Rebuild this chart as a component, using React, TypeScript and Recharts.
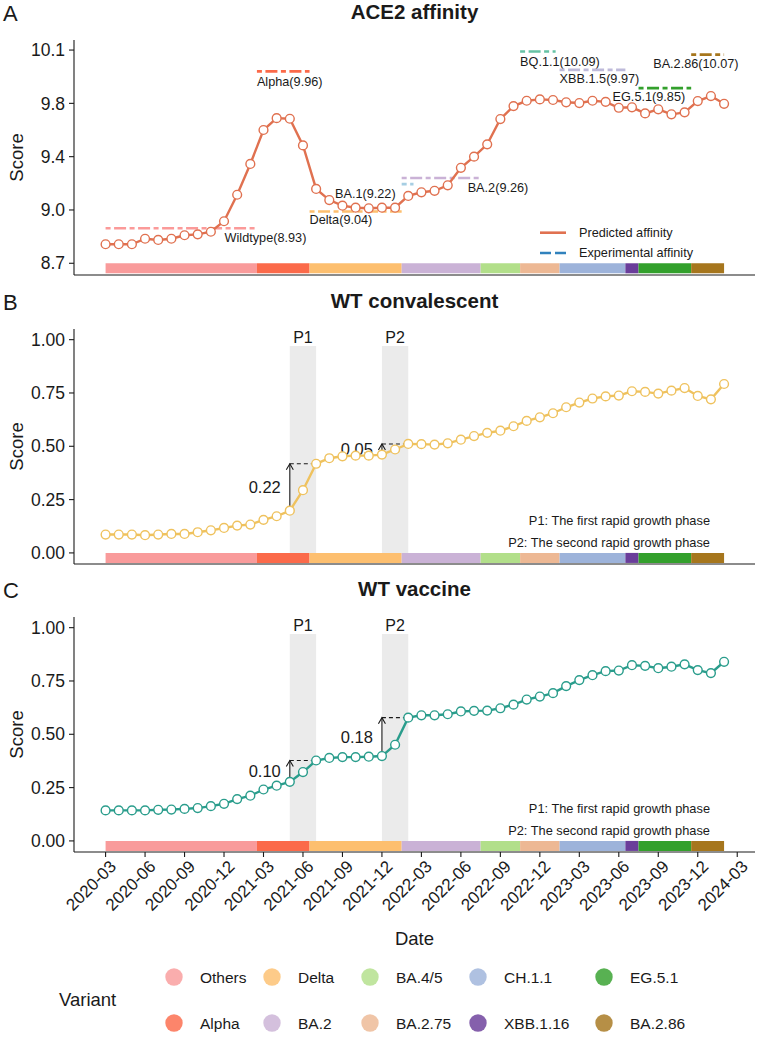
import React from "react";
import { ComposedChart, Line, XAxis, YAxis, ReferenceArea, ReferenceLine } from "recharts";

const FONT = '"Liberation Sans", Arial, Helvetica, sans-serif';
const INK = "#1a1a1a";

// month index 0 = 2020-03, one point per month up to 2024-02
const dateTicks = [0, 3, 6, 9, 12, 15, 18, 21, 24, 27, 30, 33, 36, 39, 42, 45, 48];
const dateLabels = [
  "2020-03", "2020-06", "2020-09", "2020-12", "2021-03", "2021-06", "2021-09", "2021-12",
  "2022-03", "2022-06", "2022-09", "2022-12", "2023-03", "2023-06", "2023-09", "2023-12", "2024-03",
];

const affinity = [
  8.825, 8.825, 8.825, 8.861, 8.853, 8.861, 8.884, 8.89, 8.907, 8.976,
  9.15, 9.352, 9.575, 9.653, 9.649, 9.474, 9.188, 9.115, 9.078, 9.065,
  9.061, 9.065, 9.065, 9.142, 9.166, 9.176, 9.212, 9.327, 9.4, 9.481,
  9.647, 9.732, 9.767, 9.776, 9.772, 9.757, 9.752, 9.767, 9.76, 9.721,
  9.724, 9.684, 9.711, 9.678, 9.691, 9.765, 9.798, 9.747,
];

const convalescent = [
  0.086, 0.086, 0.086, 0.083, 0.086, 0.089, 0.089, 0.097, 0.106, 0.117,
  0.128, 0.133, 0.155, 0.172, 0.198, 0.294, 0.418, 0.444, 0.453, 0.456,
  0.456, 0.461, 0.485, 0.511, 0.51, 0.508, 0.514, 0.531, 0.548, 0.563,
  0.573, 0.594, 0.619, 0.636, 0.655, 0.683, 0.705, 0.724, 0.734, 0.738,
  0.758, 0.755, 0.747, 0.761, 0.773, 0.736, 0.72, 0.792,
];

const vaccine = [
  0.143, 0.143, 0.143, 0.143, 0.146, 0.147, 0.15, 0.154, 0.163, 0.174,
  0.196, 0.212, 0.241, 0.259, 0.277, 0.323, 0.377, 0.389, 0.393, 0.393,
  0.395, 0.398, 0.451, 0.578, 0.589, 0.589, 0.594, 0.607, 0.61, 0.611,
  0.622, 0.639, 0.663, 0.677, 0.693, 0.726, 0.754, 0.777, 0.796, 0.799,
  0.824, 0.821, 0.81, 0.817, 0.828, 0.801, 0.787, 0.84,
];

// dominant variant periods (month index)
const variantNames = ["Others", "Alpha", "Delta", "BA.2", "BA.4/5", "BA.2.75", "CH.1.1", "XBB.1.16", "EG.5.1", "BA.2.86"];
const variantStart = [0, 11.5, 15.5, 22.5, 28.5, 31.5, 34.5, 39.5, 40.5, 44.5];
const variantEnd = [11.5, 15.5, 22.5, 28.5, 31.5, 34.5, 39.5, 40.5, 44.5, 47];
const variantColors = ["#F99B9B", "#FB6A4A", "#FDBF6F", "#CAB2D6", "#B2DF8A", "#EDB894", "#9DB3DA", "#6A3D9A", "#33A02C", "#A6761D"];

// experimentally measured ACE2 affinity
const expNames = ["Wildtype", "Alpha", "Delta", "BA.1", "BA.2", "BQ.1.1", "XBB.1.5", "EG.5.1", "BA.2.86"];
const expValues = [8.93, 9.96, 9.04, 9.22, 9.26, 10.09, 9.97, 9.85, 10.07];
const expStart = [0, 11.5, 15.5, 22.5, 22.5, 31.5, 34.5, 40.5, 44.5];
const expEnd = [11.5, 15.5, 22.5, 23.4, 28.5, 34.2, 39.5, 44.5, 47];
const expColors = ["#FB9A99", "#FB6A4A", "#FDBF6F", "#A6CEE3", "#CAB2D6", "#66C2A5", "#BEBADA", "#33A02C", "#A6761D"];

// label offsets from the start of each experimental segment (px)
const expLabelPlacement: Record<string, { dx: number; dy: number; anchor: "start" | "end" }> = {
  Wildtype: { dx: 119, dy: 14, anchor: "start" },
  Alpha: { dx: 0, dy: 15, anchor: "start" },
  Delta: { dx: 0, dy: 13, anchor: "start" },
  "BA.1": { dx: -6, dy: 14, anchor: "end" },
  "BA.2": { dx: 66, dy: 14, anchor: "start" },
  "BQ.1.1": { dx: 0, dy: 14, anchor: "start" },
  "XBB.1.5": { dx: 0, dy: 13, anchor: "start" },
  "EG.5.1": { dx: -26, dy: 13, anchor: "start" },
  "BA.2.86": { dx: -38, dy: 13, anchor: "start" },
};

// rapid growth phases
const phaseNames = ["P1", "P2"];
const phaseStart = [14, 21];
const phaseEnd = [16, 23];

const affinityTicks = [8.7, 9.05, 9.4, 9.75, 10.1];
const affinityTickLabels = ["8.7", "9.0", "9.4", "9.8", "10.1"];
const scoreTicks = [0, 0.25, 0.5, 0.75, 1];
const scoreTickLabels = ["0.00", "0.25", "0.50", "0.75", "1.00"];

const X_DOMAIN: [number, number] = [-2.4, 49.35];

function DateTick(props: any) {
  const { x, y, payload } = props;
  const label = dateLabels[dateTicks.indexOf(payload.value)];
  const px = x + 3;
  const py = y;
  return (
    <text x={px} y={py} dy="0.72em" textAnchor="end" transform={`rotate(-45 ${px} ${py})`} fontSize={17} fill={INK}>
      {label}
    </text>
  );
}

function expShape(i: number) {
  return (p: any) => {
    const place = expLabelPlacement[expNames[i]];
    return (
      <g>
        <line x1={p.x1} y1={p.y1} x2={p.x2} y2={p.y2} stroke={expColors[i]} strokeWidth={2.6} strokeDasharray="5 3.5 12 3.5" />
        <text x={p.x1 + place.dx} y={p.y1 + place.dy} textAnchor={place.anchor} fontSize={12.7} fill={INK}>
          {`${expNames[i]}(${expValues[i].toFixed(2)})`}
        </text>
      </g>
    );
  };
}

function arrowShape(label: string) {
  return (p: any) => (
    <g>
      <line x1={p.x1} y1={p.y1} x2={p.x2} y2={p.y2} stroke={INK} strokeWidth={1.1} />
      <path d={`M${p.x2 - 3.5},${p.y2 + 6} L${p.x2},${p.y2} L${p.x2 + 3.5},${p.y2 + 6}`} fill="none" stroke={INK} strokeWidth={1.1} />
      <text x={p.x1 - 9} y={(p.y1 + p.y2) / 2} dy="0.36em" textAnchor="end" fontSize={16.5} fill={INK}>
        {label}
      </text>
    </g>
  );
}

function phaseMarks(values: number[]) {
  const out: React.ReactNode[] = [];
  phaseNames.forEach((name, k) => {
    const a = phaseStart[k];
    const b = phaseEnd[k];
    const gain = (values[b] - values[a]).toFixed(2);
    out.push(
      <ReferenceLine
        key={`${name}-rise`}
        segment={[{ x: a, y: values[a] }, { x: a, y: values[b] }]}
        shape={arrowShape(gain)}
      />,
      <ReferenceLine
        key={`${name}-level`}
        segment={[{ x: a, y: values[b] }, { x: b, y: values[b] }]}
        stroke={INK}
        strokeWidth={1.1}
        strokeDasharray="4 3"
      />
    );
  });
  return out;
}

function phaseBands() {
  return phaseNames.map((name, k) => (
    <ReferenceArea
      key={name}
      x1={phaseStart[k]}
      x2={phaseEnd[k]}
      y1={0}
      y2={0.97}
      fill="#EBEBEB"
      fillOpacity={1}
      stroke="none"
      label={{ value: name, position: "top", offset: 3, fontSize: 16, fill: INK }}
    />
  ));
}

interface PanelProps {
  top: number;
  height: number;
  values: number[];
  color: string;
  yDomain: [number, number];
  yTicks: number[];
  yTickLabels: string[];
  barRange: [number, number];
  showDates?: boolean;
  children?: React.ReactNode;
}

function Panel({ top, height, values, color, yDomain, yTicks, yTickLabels, barRange, showDates, children }: PanelProps) {
  const data = values.map((v, i) => ({ t: i, v }));
  return (
    <div style={{ position: "absolute", left: 0, top }}>
      <ComposedChart width={762} height={height} data={data} margin={{ top: 40, right: 7, bottom: 0, left: 0 }}>
        <XAxis
          type="number"
          dataKey="t"
          domain={X_DOMAIN}
          ticks={dateTicks}
          interval={0}
          allowDataOverflow
          height={showDates ? 85 : 15}
          tickSize={5}
          tick={showDates ? <DateTick /> : false}
          axisLine={{ stroke: INK, strokeWidth: 1.1 }}
          tickLine={{ stroke: INK, strokeWidth: 1.1 }}
        />
        <YAxis
          type="number"
          domain={yDomain}
          ticks={yTicks}
          interval={0}
          allowDataOverflow
          width={74}
          tickSize={5}
          tickMargin={4}
          tick={{ fontSize: 17.5, fill: INK }}
          tickFormatter={(v: number) => yTickLabels[yTicks.indexOf(v)]}
          axisLine={{ stroke: INK, strokeWidth: 1.1 }}
          tickLine={{ stroke: INK, strokeWidth: 1.1 }}
        />
        {variantNames.map((n, i) => (
          <ReferenceArea
            key={n}
            x1={variantStart[i]}
            x2={variantEnd[i]}
            y1={barRange[0]}
            y2={barRange[1]}
            fill={variantColors[i]}
            fillOpacity={1}
            stroke="none"
          />
        ))}
        {children}
        <Line
          type="linear"
          dataKey="v"
          stroke={color}
          strokeWidth={2.4}
          dot={{ r: 4.4, fill: "#fff", stroke: color, strokeWidth: 1.4 }}
          activeDot={false}
          isAnimationActive={false}
        />
      </ComposedChart>
    </div>
  );
}

const legendCols = [174, 272, 370, 478, 604];
const legendRows = [977, 1023];

export default function App() {
  const scoreDomain: [number, number] = [-0.052, 1.05];
  return (
    <div style={{ position: "absolute", left: 0, top: 0, width: 762, height: 1042, background: "#fff", fontFamily: FONT }}>
      <Panel
        top={0}
        height={290}
        values={affinity}
        color="#E07150"
        yDomain={[8.623, 10.166]}
        yTicks={affinityTicks}
        yTickLabels={affinityTickLabels}
        barRange={[8.634, 8.7]}
      >
        {expNames.map((n, i) => (
          <ReferenceLine
            key={n}
            segment={[{ x: expStart[i], y: expValues[i] }, { x: expEnd[i], y: expValues[i] }]}
            shape={expShape(i)}
          />
        ))}
      </Panel>

      <Panel
        top={289}
        height={290}
        values={convalescent}
        color="#EFC25E"
        yDomain={scoreDomain}
        yTicks={scoreTicks}
        yTickLabels={scoreTickLabels}
        barRange={[-0.047, 0]}
      >
        {phaseBands()}
        {phaseMarks(convalescent)}
      </Panel>

      <Panel
        top={577}
        height={360}
        values={vaccine}
        color="#2A9D8C"
        yDomain={scoreDomain}
        yTicks={scoreTicks}
        yTickLabels={scoreTickLabels}
        barRange={[-0.047, 0]}
        showDates
      >
        {phaseBands()}
        {phaseMarks(vaccine)}
      </Panel>

      <svg width={762} height={1042} style={{ position: "absolute", left: 0, top: 0, pointerEvents: "none" }} fontFamily={FONT}>
        {/* panel letters and titles */}
        {[
          { letter: "A", title: "ACE2 affinity", y: 0 },
          { letter: "B", title: "WT convalescent", y: 289 },
          { letter: "C", title: "WT vaccine", y: 577 },
        ].map((p) => (
          <g key={p.letter}>
            <text x={3} y={p.y + 21} fontSize={22} fill={INK}>{p.letter}</text>
            <text x={414.5} y={p.y + 18.5} fontSize={20.5} fontWeight="bold" textAnchor="middle" fill={INK}>{p.title}</text>
            <text x={22.5} y={p.y + 157.5} fontSize={18.5} textAnchor="middle" fill={INK} transform={`rotate(-90 22.5 ${p.y + 157.5})`}>Score</text>
          </g>
        ))}

        {/* affinity legend */}
        <line x1={540} y1={232.7} x2={566} y2={232.7} stroke="#E07150" strokeWidth={2.6} />
        <text x={579} y={237} fontSize={12.7} fill={INK}>Predicted affinity</text>
        <line x1={540} y1={253} x2={566} y2={253} stroke="#3182BD" strokeWidth={2.6} strokeDasharray="11 4" />
        <text x={579} y={257.3} fontSize={12.7} fill={INK}>Experimental affinity</text>

        {/* phase notes */}
        {[289, 577].map((oy) => (
          <g key={oy} fontSize={12.8} fill={INK} textAnchor="end">
            <text x={710} y={oy + 236}>P1: The first rapid growth phase</text>
            <text x={710} y={oy + 257.5}>P2: The second rapid growth phase</text>
          </g>
        ))}

        <text x={414.5} y={944.5} fontSize={18.5} textAnchor="middle" fill={INK}>Date</text>

        {/* variant legend */}
        <text x={59} y={1006} fontSize={18.5} fill={INK}>Variant</text>
        {variantNames.map((n, i) => {
          const cx = legendCols[Math.floor(i / 2)];
          const cy = legendRows[i % 2];
          return (
            <g key={n}>
              <circle cx={cx} cy={cy} r={8.7} fill={variantColors[i]} fillOpacity={0.82} />
              <text x={cx + 26} y={cy + 5.5} fontSize={15.5} fill={INK}>{n}</text>
            </g>
          );
        })}
      </svg>
    </div>
  );
}
